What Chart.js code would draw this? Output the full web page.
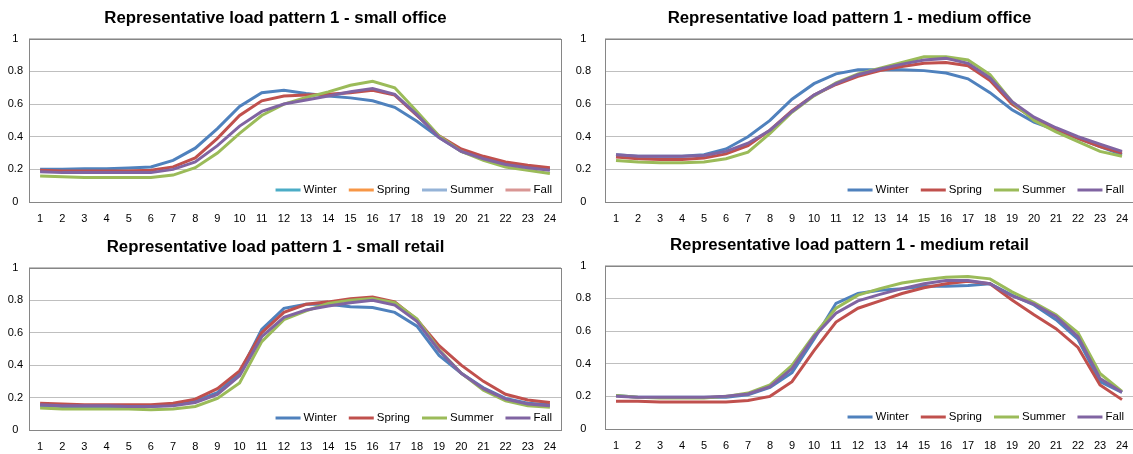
<!DOCTYPE html>
<html>
<head>
<meta charset="utf-8">
<script src="https://cdn.jsdelivr.net/npm/chart.js@4/dist/chart.umd.min.js"></script>
<style>
html,body{margin:0;padding:0;background:#fff;overflow:hidden;width:1133px;height:454px;}
.p{position:absolute;}
</style>
</head>
<body>
<div class="p" style="left:-10px;top:0px;"><canvas id="c1" width="577" height="227"></canvas></div>
<div class="p" style="left:566px;top:0px;"><canvas id="c2" width="598" height="227"></canvas></div>
<div class="p" style="left:-10px;top:227px;"><canvas id="c3" width="577" height="227"></canvas></div>
<div class="p" style="left:566px;top:227px;"><canvas id="c4" width="598" height="227"></canvas></div>
<script>
const hours = ["1","2","3","4","5","6","7","8","9","10","11","12","13","14","15","16","17","18","19","20","21","22","23","24"];
const seasons = ["Winter","Spring","Summer","Fall"];
const yTicks = [0, 0.2, 0.4, 0.6, 0.8, 1];

const titles = [
  "Representative load pattern 1 - small office",
  "Representative load pattern 1 - medium office",
  "Representative load pattern 1 - small retail",
  "Representative load pattern 1 - medium retail"
];

// small office
const smallOfficeWinter = [0.20,0.20,0.203,0.203,0.208,0.215,0.255,0.33,0.45,0.585,0.67,0.685,0.665,0.65,0.638,0.62,0.58,0.495,0.395,0.31,0.265,0.235,0.215,0.20];
const smallOfficeSpring = [0.195,0.19,0.19,0.19,0.19,0.195,0.215,0.27,0.39,0.53,0.62,0.65,0.655,0.66,0.67,0.685,0.655,0.53,0.405,0.325,0.28,0.245,0.225,0.21];
const smallOfficeSummer = [0.16,0.155,0.15,0.15,0.15,0.15,0.165,0.21,0.30,0.42,0.53,0.60,0.64,0.675,0.715,0.74,0.70,0.555,0.405,0.31,0.255,0.215,0.195,0.175];
const smallOfficeFall   = [0.185,0.18,0.18,0.18,0.18,0.18,0.20,0.245,0.345,0.465,0.555,0.60,0.625,0.65,0.675,0.695,0.66,0.535,0.395,0.31,0.265,0.23,0.21,0.195];

// medium office
const mediumOfficeWinter = [0.29,0.28,0.28,0.28,0.29,0.325,0.40,0.50,0.63,0.725,0.785,0.81,0.81,0.81,0.805,0.79,0.755,0.67,0.565,0.49,0.44,0.39,0.34,0.29];
const mediumOfficeSpring = [0.275,0.265,0.26,0.26,0.27,0.295,0.345,0.44,0.56,0.655,0.72,0.77,0.805,0.83,0.85,0.855,0.835,0.745,0.60,0.51,0.45,0.39,0.34,0.30];
const mediumOfficeSummer = [0.255,0.245,0.24,0.24,0.245,0.265,0.305,0.42,0.55,0.65,0.73,0.785,0.82,0.855,0.89,0.89,0.87,0.78,0.615,0.50,0.43,0.37,0.31,0.28];
const mediumOfficeFall   = [0.29,0.28,0.28,0.28,0.285,0.31,0.36,0.44,0.555,0.655,0.725,0.78,0.815,0.845,0.87,0.88,0.85,0.76,0.615,0.52,0.455,0.40,0.355,0.31];

// small retail
const smallRetailWinter = [0.15,0.145,0.145,0.145,0.145,0.145,0.155,0.18,0.23,0.35,0.62,0.75,0.775,0.775,0.76,0.755,0.725,0.64,0.46,0.35,0.26,0.195,0.165,0.155];
const smallRetailSpring = [0.165,0.16,0.155,0.155,0.155,0.155,0.165,0.19,0.255,0.365,0.60,0.725,0.775,0.79,0.81,0.82,0.79,0.68,0.52,0.40,0.30,0.22,0.185,0.17];
const smallRetailSummer = [0.135,0.13,0.13,0.13,0.13,0.125,0.13,0.145,0.195,0.29,0.545,0.68,0.735,0.78,0.80,0.81,0.785,0.685,0.495,0.35,0.245,0.18,0.15,0.14];
const smallRetailFall   = [0.155,0.15,0.15,0.15,0.145,0.145,0.15,0.17,0.22,0.335,0.575,0.695,0.74,0.765,0.785,0.80,0.77,0.67,0.49,0.35,0.255,0.19,0.16,0.15];

// medium retail
const mediumRetailWinter = [0.205,0.195,0.195,0.195,0.195,0.195,0.21,0.255,0.345,0.55,0.77,0.83,0.85,0.86,0.875,0.875,0.88,0.89,0.82,0.76,0.67,0.55,0.29,0.225];
const mediumRetailSpring = [0.17,0.17,0.165,0.165,0.165,0.165,0.175,0.20,0.29,0.48,0.655,0.74,0.785,0.83,0.865,0.89,0.905,0.89,0.79,0.70,0.615,0.50,0.27,0.18];
const mediumRetailSummer = [0.205,0.195,0.19,0.19,0.19,0.20,0.22,0.27,0.39,0.575,0.74,0.82,0.86,0.895,0.915,0.93,0.935,0.92,0.84,0.775,0.70,0.59,0.34,0.23];
const mediumRetailFall   = [0.20,0.195,0.195,0.195,0.195,0.20,0.215,0.26,0.37,0.565,0.71,0.785,0.825,0.86,0.89,0.91,0.91,0.89,0.815,0.765,0.69,0.565,0.31,0.225];

const lineColors = ["#4F81BD","#C0504D","#9BBB59","#8064A2"];
const legendColorsFirst = ["#4BACC6","#F79646","#95B3D7","#D99694"];

const FONT = "'Liberation Sans', Arial, sans-serif";

const framePlugin = {
  id: 'frame',
  beforeDatasetsDraw(chart) {
    const a = chart.chartArea, ctx = chart.ctx;
    ctx.save();
    ctx.strokeStyle = '#868686';
    ctx.lineWidth = 1;
    ctx.strokeRect(Math.round(a.left) + 0.5, Math.round(a.top) + 0.5, Math.round(a.right - a.left), Math.round(a.bottom - a.top));
    ctx.restore();
  }
};

const insideLegend = {
  id: 'insideLegend',
  afterDatasetsDraw(chart, args, opts) {
    const a = chart.chartArea, ctx = chart.ctx;
    ctx.save();
    ctx.font = '11.5px ' + FONT;
    ctx.textBaseline = 'middle';
    ctx.textAlign = 'left';
    const lineLen = 25, gapText = 3, gapItem = 12;
    const names = chart.data.datasets.map(d => d.label);
    let total = 0;
    const widths = names.map(n => ctx.measureText(n).width);
    widths.forEach((w, i) => { total += lineLen + gapText + w + (i < names.length - 1 ? gapItem : 0); });
    let x = a.right - opts.rightGap - total;
    const y = a.bottom - opts.bottomGap;
    names.forEach((n, i) => {
      ctx.strokeStyle = opts.colors[i];
      ctx.lineWidth = 3;
      ctx.beginPath();
      ctx.moveTo(x, y);
      ctx.lineTo(x + lineLen, y);
      ctx.stroke();
      x += lineLen + gapText;
      ctx.fillStyle = '#000';
      ctx.fillText(n, x, y);
      x += widths[i] + gapItem;
    });
    ctx.restore();
  }
};

function makeChart(id, title, series, cfg) {
  const datasets = series.map((vals, i) => ({
    label: seasons[i],
    data: vals,
    borderColor: lineColors[i],
    backgroundColor: lineColors[i],
    borderWidth: 3,
    pointRadius: 0,
    tension: 0,
    order: 4 - i,
    fill: false
  }));
  return new Chart(document.getElementById(id), {
    type: 'line',
    data: { labels: hours, datasets },
    plugins: [framePlugin, insideLegend],
    options: {
      responsive: false,
      animation: false,
      layout: { padding: { left: 0, right: cfg.padRight, top: 0, bottom: 0 } },
      plugins: {
        legend: { display: false },
        tooltip: { enabled: false },
        title: {
          display: true,
          text: title,
          color: '#000',
          font: { family: FONT, size: 16.8, weight: 'bold', lineHeight: 1 },
          padding: { top: cfg.titleTop, bottom: cfg.titleBottom }
        },
        insideLegend: { colors: cfg.legendColors, rightGap: 9, bottomGap: 12 }
      },
      scales: {
        x: {
          type: 'category',
          offset: true,
          grid: { display: false, drawTicks: false },
          border: { display: false },
          ticks: { color: '#000', font: { family: FONT, size: 11 }, padding: 10, maxRotation: 0, autoSkip: false },
          afterFit(s) { s.height = cfg.xHeight; }
        },
        y: {
          min: 0, max: 1,
          afterBuildTicks(s) { s.ticks = yTicks.map(v => ({ value: v })); },
          grid: { color: '#bfbfbf', lineWidth: 1, drawTicks: false },
          border: { display: false },
          ticks: {
            color: '#000', font: { family: FONT, size: 11 }, padding: cfg.yPad, crossAlign: 'center',
            callback: v => String(v)
          },
          afterFit(s) { s.width = cfg.yWidth; }
        }
      }
    }
  });
}

makeChart('c1', titles[0], [smallOfficeWinter, smallOfficeSpring, smallOfficeSummer, smallOfficeFall],
  { padRight: 6, yWidth: 39, yPad: 6, xHeight: 25, titleTop: 10, titleBottom: 12, legendColors: legendColorsFirst });
makeChart('c2', titles[1], [mediumOfficeWinter, mediumOfficeSpring, mediumOfficeSummer, mediumOfficeFall],
  { padRight: 31, yWidth: 39, yPad: 14, xHeight: 25, titleTop: 10, titleBottom: 12, legendColors: lineColors });
makeChart('c3', titles[2], [smallRetailWinter, smallRetailSpring, smallRetailSummer, smallRetailFall],
  { padRight: 6, yWidth: 39, yPad: 6, xHeight: 24, titleTop: 12, titleBottom: 12, legendColors: lineColors });
makeChart('c4', titles[3], [mediumRetailWinter, mediumRetailSpring, mediumRetailSummer, mediumRetailFall],
  { padRight: 31, yWidth: 39, yPad: 14, xHeight: 25, titleTop: 10, titleBottom: 12, legendColors: lineColors });
</script>
</body>
</html>
